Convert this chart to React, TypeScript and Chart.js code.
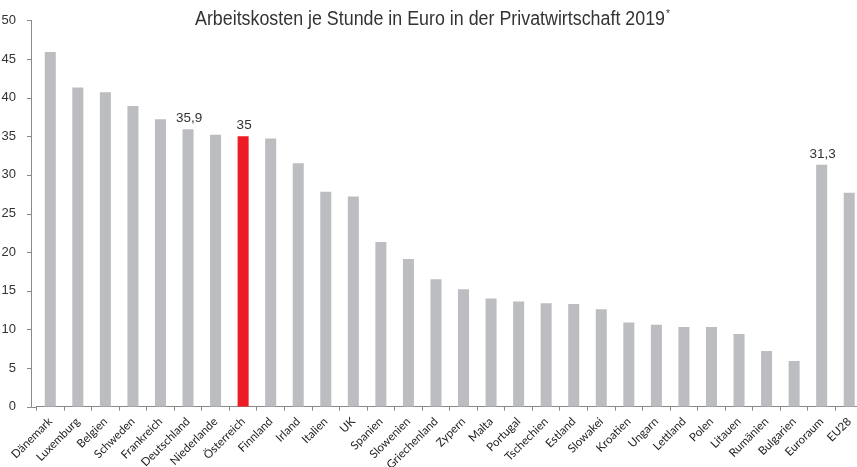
import React, { useEffect, useRef } from "react";
import { Chart, registerables } from "chart.js";

Chart.register(...registerables);

const categories = [
  "Dänemark", "Luxemburg", "Belgien", "Schweden", "Frankreich", "Deutschland",
  "Niederlande", "Österreich", "Finnland", "Irland", "Italien", "UK", "Spanien",
  "Slowenien", "Griechenland", "Zypern", "Malta", "Portugal", "Tschechien",
  "Estland", "Slowakei", "Kroatien", "Ungarn", "Lettland", "Polen", "Litauen",
  "Rumänien", "Bulgarien", "Euroraum", "EU28",
];
const values = [
  45.9, 41.3, 40.7, 38.9, 37.2, 35.9, 35.2, 35.0, 34.7, 31.5, 27.8, 27.2, 21.3,
  19.1, 16.5, 15.2, 14.0, 13.6, 13.4, 13.3, 12.6, 10.9, 10.6, 10.3, 10.3, 9.4,
  7.2, 5.9, 31.3, 27.7,
];
const highlightCategory = "Österreich";
const labeledCategories = ["Deutschland", "Österreich", "Euroraum"];
const labeledTexts = ["35,9", "35", "31,3"];
const yMin = 0;
const yMax = 50;
const yStep = 5;
const titleText = "Arbeitskosten je Stunde in Euro in der Privatwirtschaft 2019";
const titleMark = "*";

const GRAY = "#bcbdc1";
const RED = "#ed1c24";
const AXIS = "#8a8a8a";
const TEXT = "#333333";
const SANS = '"Liberation Sans", Arial, sans-serif';

const decorPlugin = {
  id: "decor",
  afterDraw(chart: any) {
    const { ctx, chartArea, scales } = chart;
    const ys = scales.y;
    const axisX = Math.round(chartArea.left - 5.5) + 0.5;
    const bottom = Math.round(chartArea.bottom) + 0.5;
    ctx.save();
    ctx.strokeStyle = AXIS;
    ctx.lineWidth = 1;
    ctx.beginPath();
    ctx.moveTo(axisX, Math.round(ys.getPixelForValue(yMax)));
    ctx.lineTo(axisX, bottom);
    ctx.lineTo(chartArea.left, bottom);
    for (let v = yMin; v <= yMax; v += yStep) {
      const py = Math.round(ys.getPixelForValue(v)) + 0.5;
      ctx.moveTo(axisX - 4.5, py);
      ctx.lineTo(axisX, py);
    }
    ctx.stroke();

    // value labels
    const meta = chart.getDatasetMeta(0);
    ctx.fillStyle = TEXT;
    ctx.font = `13.5px ${SANS}`;
    ctx.textAlign = "center";
    ctx.textBaseline = "alphabetic";
    labeledCategories.forEach((c, k) => {
      const i = categories.indexOf(c);
      const el = meta.data[i];
      if (el) ctx.fillText(labeledTexts[k], el.x + 1, el.y - 7);
    });

    // title (horizontally condensed)
    ctx.textAlign = "left";
    ctx.font = `20px ${SANS}`;
    const wMain = ctx.measureText(titleText).width;
    const targetW = 470;
    const sx = targetW / wMain;
    const start = 195;
    ctx.save();
    ctx.translate(start, 25);
    ctx.scale(sx, 1);
    ctx.fillText(titleText, 0, 0);
    ctx.restore();
    ctx.font = `10px ${SANS}`;
    ctx.fillText(titleMark, start + targetW + 1, 17);
    ctx.restore();
  },
};

export default function App() {
  const ref = useRef<HTMLCanvasElement>(null);
  useEffect(() => {
    const chart = new Chart(ref.current as HTMLCanvasElement, {
      type: "bar",
      data: {
        labels: categories,
        datasets: [
          {
            data: values,
            backgroundColor: categories.map((c) => (c === highlightCategory ? RED : GRAY)),
            borderWidth: 0,
            barPercentage: 0.4,
            categoryPercentage: 1,
          },
        ],
      },
      options: {
        animation: false,
        responsive: false,
        devicePixelRatio: 1,
        layout: { padding: { top: 20, right: 3, left: 0, bottom: 0 } },
        plugins: {
          legend: { display: false },
          title: { display: false },
          tooltip: { enabled: false },
        },
        scales: {
          x: {
            offset: true,
            grid: {
              display: true,
              offset: true,
              drawOnChartArea: false,
              drawTicks: true,
              tickLength: 4,
              color: AXIS,
            },
            border: { display: true, color: AXIS },
            ticks: {
              autoSkip: false,
              maxRotation: 45,
              minRotation: 45,
              padding: 4,
              color: "#222222",
              font: { family: "Lato", size: 11.5 },
            },
            afterFit: (scale: any) => {
              scale.height = 60.3;
            },
          },
          y: {
            min: yMin,
            max: yMax,
            grid: { display: false },
            border: { display: false },
            ticks: {
              stepSize: yStep,
              padding: 12.5,
              color: TEXT,
              font: { family: "Liberation Sans", size: 13 },
            },
            afterFit: (scale: any) => {
              scale.width = 36.5;
            },
          },
        },
      },
      plugins: [decorPlugin],
    });
    return () => chart.destroy();
  }, []);
  return (
    <div
      style={{
        position: "fixed",
        left: 0,
        top: 0,
        width: 857,
        height: 467,
        overflow: "hidden",
        background: "#ffffff",
      }}
    >
      <canvas
        ref={ref}
        width={866}
        height={467}
        style={{ display: "block", width: 866, height: 467 }}
      />
    </div>
  );
}
